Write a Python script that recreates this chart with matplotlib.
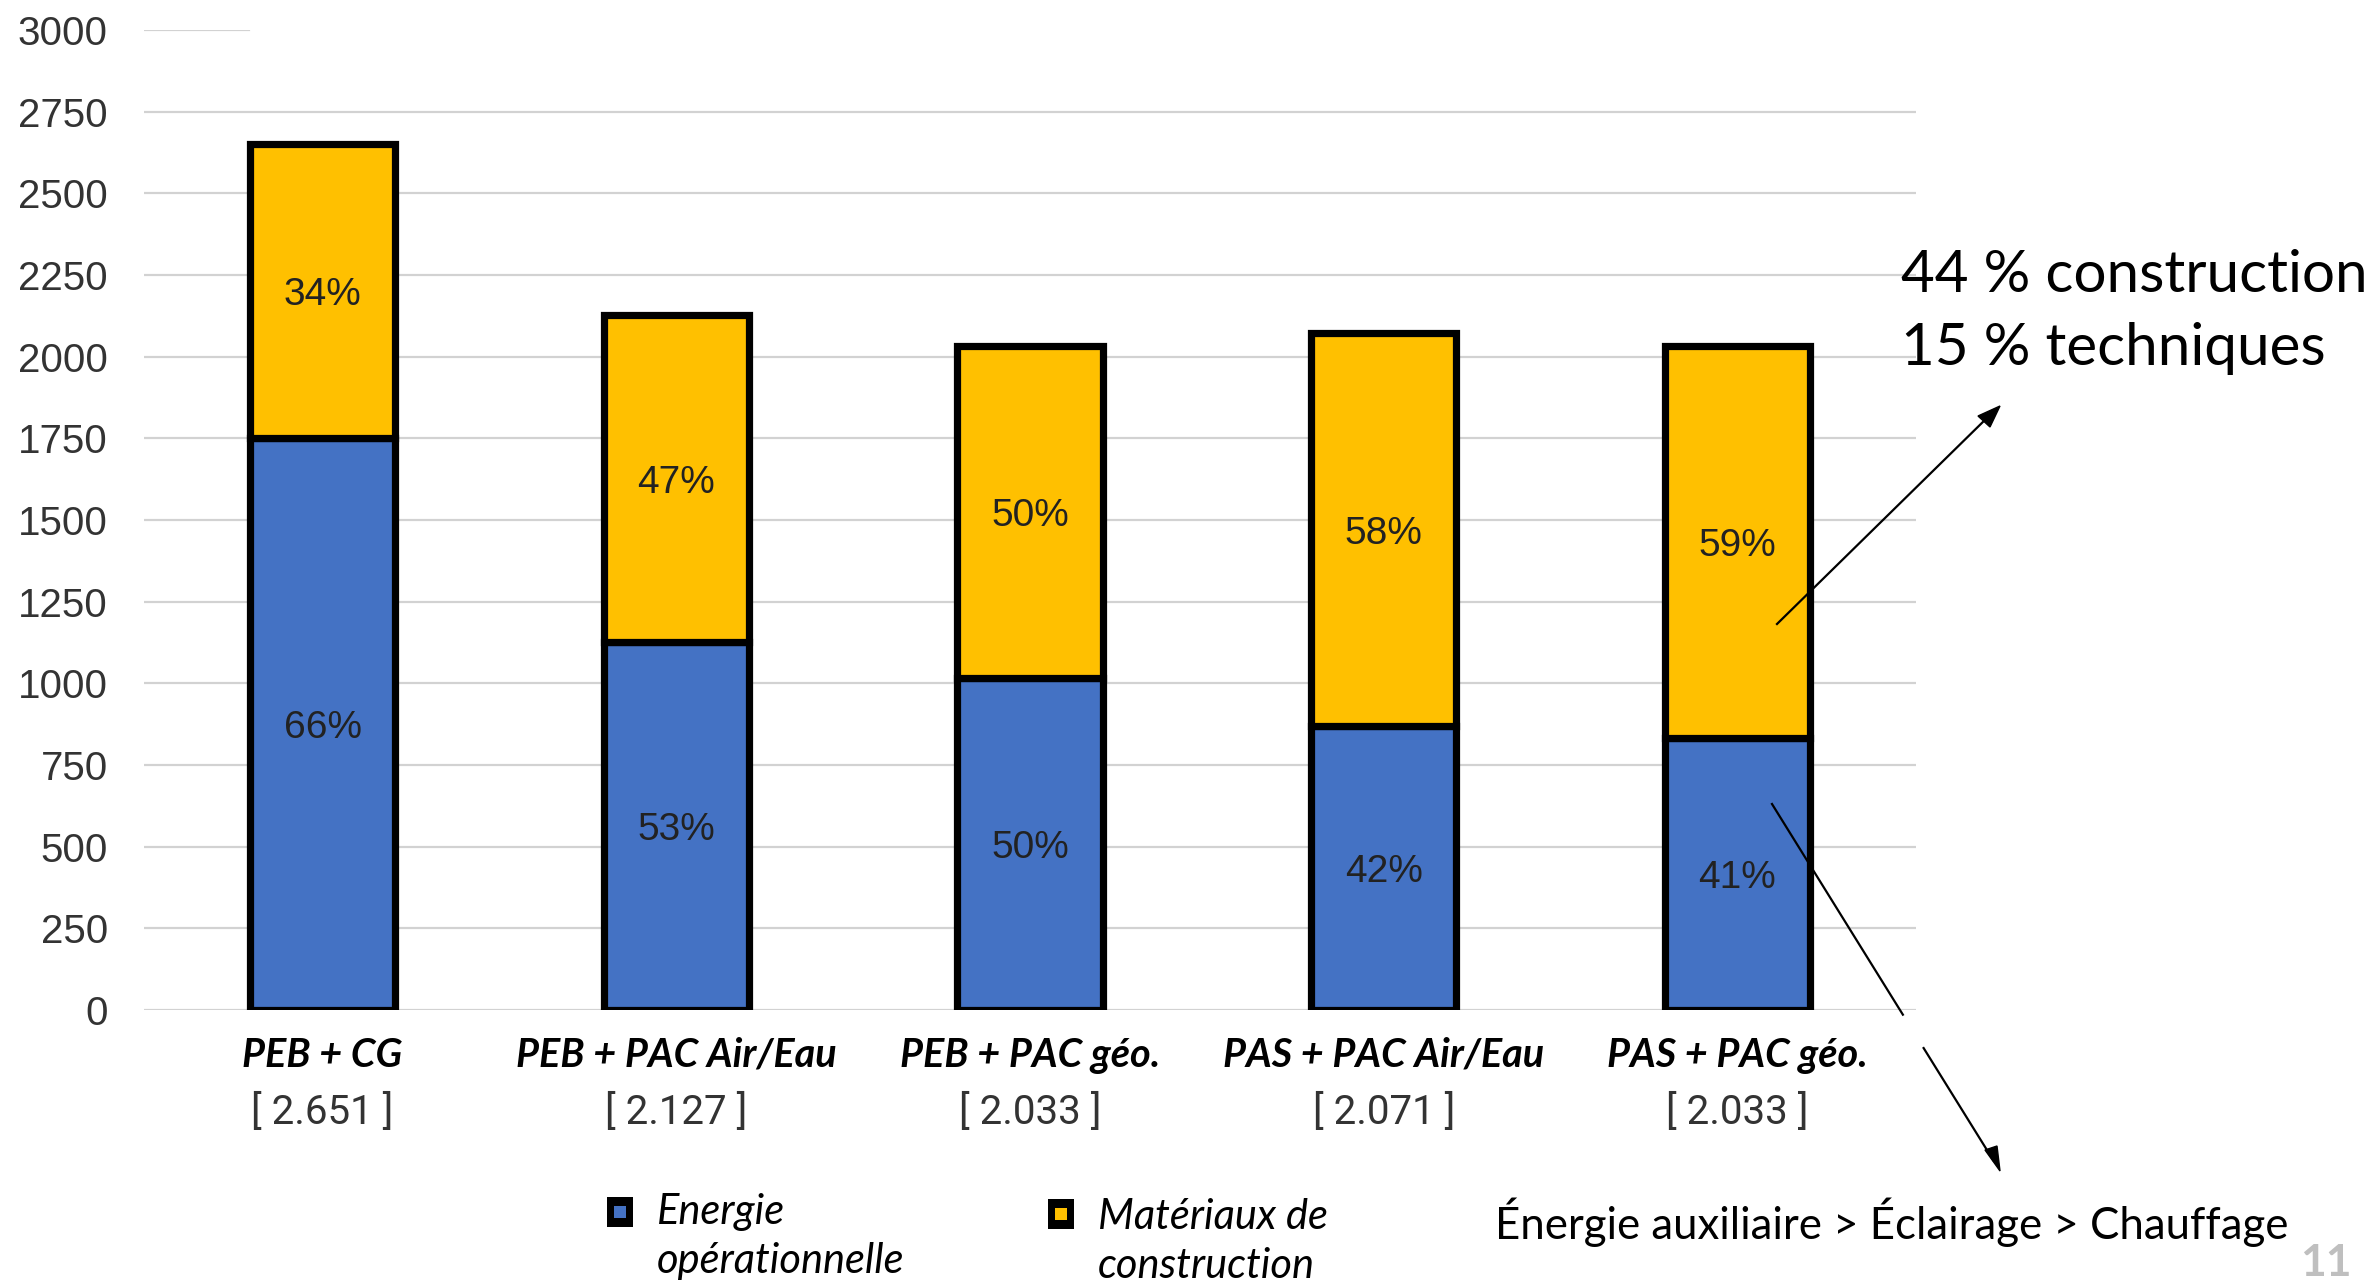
import matplotlib.pyplot as plt
from matplotlib.patches import Rectangle
from matplotlib.lines import Line2D

W, H = 2375, 1281

categories = ['PEB + CG', 'PEB + PAC Air/Eau', 'PEB + PAC géo.', 'PAS + PAC Air/Eau', 'PAS + PAC géo.']
energie = [1750, 1127, 1016, 870, 834]
materiaux = [901, 1000, 1017, 1201, 1199]
y_ticks = [0, 250, 500, 750, 1000, 1250, 1500, 1750, 2000, 2250, 2500, 2750, 3000]
legend_labels = [('Energie', 'opérationnelle'), ('Matériaux de', 'construction')]
note_top = '44 % construction\n15 % techniques'
note_bottom = 'Énergie auxiliaire > Éclairage > Chauffage'

BLUE = '#4472C4'
YELLOW = '#FFC000'
GRID = '#d2d2d2'
HAND = ['Lato', 'DejaVu Sans']
NUM = ['Liberation Sans', 'DejaVu Sans']


# pixel coords (top-left origin, full size) -> figure fraction
def fx(x):
    return x / W


def fy(y):
    return 1 - y / H


fig = plt.figure(figsize=(W / 100, H / 100), dpi=100)
ax = fig.add_axes([fx(144), fy(1010), fx(1916) - fx(144), fy(30) - fy(1010)])

x = list(range(len(categories)))
totals = [e + m for e, m in zip(energie, materiaux)]

# grid lines drawn by hand, the top one is only a stub in the original
for t in y_ticks:
    xmax = 0.059 if t == 3000 else 1.0
    ax.axhline(t, xmin=0, xmax=xmax, color=GRID, lw=1.6, zorder=0)

ax.bar(x, energie, width=0.41, color=BLUE, edgecolor='black', linewidth=5.2, zorder=2)
ax.bar(x, materiaux, width=0.41, bottom=energie, color=YELLOW, edgecolor='black', linewidth=5.2, zorder=2)

for i in x:
    pe = round(100 * energie[i] / totals[i])
    pm = round(100 * materiaux[i] / totals[i])
    ax.text(i, energie[i] / 2, f'{pe}%', ha='center', va='center_baseline', fontsize=28,
            family=NUM, color='#222222', zorder=3)
    ax.text(i, energie[i] + materiaux[i] / 2, f'{pm}%', ha='center', va='center_baseline', fontsize=28,
            family=NUM, color='#222222', zorder=3)

ax.set_xlim(-0.505, 4.505)
ax.set_ylim(0, 3000)
ax.set_yticks(y_ticks)
ax.set_yticklabels([str(t) for t in y_ticks], family=NUM, fontsize=29, color='#333333')
ax.tick_params(axis='y', length=0, pad=26)
ax.set_xticks([])
for s in ax.spines.values():
    s.set_visible(False)

# category names and totals under the bars
trans = ax.get_xaxis_transform()
for i, (c, t) in enumerate(zip(categories, totals)):
    ax.text(i, -0.046, c, transform=trans, ha='center', va='center', fontsize=28.5,
            family=HAND, weight='bold', style='italic', color='black')
    ax.text(i, -0.105, f'[ {t / 1000:.3f} ]', transform=trans, ha='center', va='center',
            fontsize=29, family=['Roboto', 'DejaVu Sans'], color='#333333')

# legend built by hand
for (mx, my, col), (l1, l2) in zip([(620, 1212, BLUE), (1061, 1214, YELLOW)], legend_labels):
    fig.add_artist(Rectangle((fx(mx - 13), fy(my + 15)), 26 / W, 30 / H, transform=fig.transFigure,
                             facecolor='black', edgecolor='none'))
    fig.add_artist(Rectangle((fx(mx - 6), fy(my + 6)), 12 / W, 12 / H, transform=fig.transFigure,
                             facecolor=col, edgecolor='none'))
    dy = 0 if col == BLUE else 5
    fig.text(fx(mx + 37), fy(1212 + dy), l1, ha='left', va='center', fontsize=30, family=HAND,
             style='italic')
    fig.text(fx(mx + 37), fy(1261 + dy), l2, ha='left', va='center', fontsize=30, family=HAND,
             style='italic')

fig.text(fx(1901), fy(312), note_top, ha='left', va='center', fontsize=42, family=HAND,
         linespacing=1.45)
fig.text(fx(1495), fy(1222), note_bottom, ha='left', va='center', fontsize=31.5, family=HAND)
fig.text(fx(2300), fy(1243), '11', ha='left', va='top', fontsize=32, family=HAND,
         weight='bold', color='#bfbfbf')

# arrows
fig.add_artist(Line2D([fx(1777), fx(1990)], [fy(624), fy(415)], transform=fig.transFigure,
                      color='black', lw=1.6))
fig.add_artist(plt.Polygon([[fx(2000), fy(406)], [fx(1978), fy(416)], [fx(1990), fy(427)]],
                           closed=True, transform=fig.transFigure, color='black'))
x0, y0, x1, y1 = 1772, 804, 2000, 1171
for a, b in [(0.0, 0.574), (0.665, 0.97)]:
    fig.add_artist(Line2D([fx(x0 + (x1 - x0) * a), fx(x0 + (x1 - x0) * b)],
                          [fy(y0 + (y1 - y0) * a), fy(y0 + (y1 - y0) * b)],
                          transform=fig.transFigure, color='black', lw=1.6))
fig.add_artist(plt.Polygon([[fx(2000), fy(1171)], [fx(1985), fy(1150)], [fx(1997), fy(1146)]],
                           closed=True, transform=fig.transFigure, color='black'))

fig.savefig('out.png', dpi=100)
